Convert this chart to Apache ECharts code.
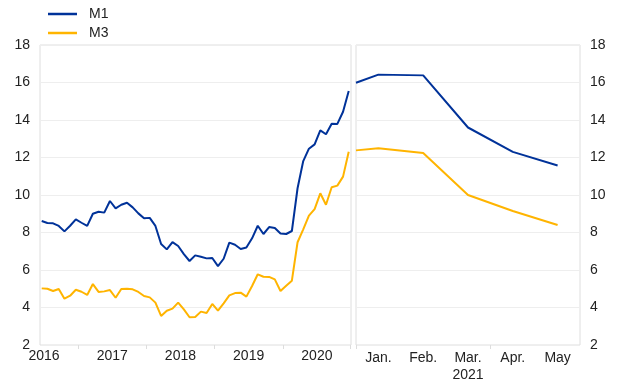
<!DOCTYPE html>
<html><head><meta charset="utf-8">
<script src="https://cdn.jsdelivr.net/npm/echarts@6/dist/echarts.min.js"></script>
<style>html,body{margin:0;padding:0;background:#fff}#c{width:620px;height:387px}</style>
</head><body><div id="c"></div>
<script>
const seriesNames = ['M1', 'M3'];
// Left panel: monthly observations, index 0 = start of 2016
const m1Left = [8.61,8.51,8.49,8.35,8.06,8.36,8.70,8.52,8.35,9.00,9.11,9.06,9.68,9.29,9.48,9.59,9.34,9.02,8.76,8.78,8.35,7.39,7.10,7.49,7.28,6.85,6.48,6.78,6.71,6.62,6.64,6.21,6.60,7.46,7.35,7.12,7.20,7.69,8.36,7.92,8.29,8.24,7.95,7.92,8.08,10.36,11.81,12.47,12.70,13.45,13.24,13.80,13.79,14.44,15.55];
const m3Left = [5.02,5.00,4.88,4.99,4.47,4.63,4.95,4.84,4.67,5.25,4.83,4.86,4.93,4.52,4.99,5.00,4.97,4.83,4.61,4.54,4.26,3.55,3.83,3.94,4.26,3.90,3.48,3.49,3.78,3.71,4.19,3.83,4.22,4.65,4.77,4.79,4.58,5.15,5.77,5.64,5.63,5.50,4.88,5.16,5.43,7.48,8.17,8.90,9.25,10.09,9.48,10.41,10.50,10.98,12.31];
const yearLabels = ['2016','2017','2018','2019','2020'];
const yearPos = [0.4, 12.4, 24.4, 36.4, 48.4];
// Right panel: 2021 months (position -0.5 = start of panel)
const rightPos = [-0.5, 0, 1, 2, 3, 4];
const m1Right = [15.99, 16.42, 16.38, 13.60, 12.30, 11.57];
const m3Right = [12.38, 12.49, 12.24, 10.00, 9.15, 8.40];
const monthLabels = ['Jan.', 'Feb.', 'Mar.\n2021', 'Apr.', 'May'];

const BLUE = '#003299', YELLOW = '#FFB400';
const FONT = 'Liberation Sans, Arial, sans-serif';
const chart = echarts.init(document.getElementById('c'), null, {renderer: 'canvas'});
const gridBorder = '#dedede', splitCol = '#eeeeee';
const yCommon = {
  type: 'value', min: 2, max: 18, interval: 2,
  axisLine: {show: false}, axisTick: {show: false},
  splitLine: {show: true, lineStyle: {color: splitCol, width: 1}},
  axisLabel: {color: '#222', fontSize: 14, fontFamily: FONT, margin: 10}
};
chart.setOption({
  animation: false,
  textStyle: {fontFamily: FONT},
  legend: {
    orient: 'vertical', left: 43, top: 2, itemWidth: 29, itemHeight: 2.5, itemGap: 5,
    icon: 'rect',
    data: seriesNames,
    textStyle: {color: '#222', fontSize: 14, fontFamily: FONT, padding: [0, 0, 0, 7]}
  },
  grid: [
    {left: 40, top: 45, width: 311, height: 300, show: true, borderColor: gridBorder, borderWidth: 1},
    {left: 356, top: 45, width: 224, height: 300, show: true, borderColor: gridBorder, borderWidth: 1}
  ],
  xAxis: [
    {
      gridIndex: 0, type: 'value', min: -0.3, max: 54.4,
      splitLine: {show: false}, axisLine: {show: false},
      axisTick: {show: true, customValues: [6.4, 18.4, 30.4, 42.4, 54.2], length: 4, lineStyle: {color: '#dddddd'}},
      axisLabel: {customValues: yearPos, formatter: v => yearLabels[yearPos.indexOf(v)] || '',
        color: '#222', fontSize: 14, fontFamily: FONT, margin: 4}
    },
    {
      gridIndex: 1, type: 'value', min: -0.5, max: 4.5,
      splitLine: {show: false}, axisLine: {show: false},
      axisTick: {show: true, customValues: [-0.5, 2.5], length: 4, lineStyle: {color: '#dddddd'}},
      axisLabel: {customValues: [0, 1, 2, 3, 4], formatter: v => monthLabels[Math.round(v)] || '',
        color: '#222', fontSize: 14, fontFamily: FONT, margin: 5, lineHeight: 17}
    }
  ],
  yAxis: [
    Object.assign({gridIndex: 0, position: 'left'}, yCommon),
    Object.assign({gridIndex: 1, position: 'right'}, yCommon)
  ],
  series: [
    {name: 'M1', type: 'line', xAxisIndex: 0, yAxisIndex: 0, symbol: 'none', color: BLUE,
      lineStyle: {width: 2, color: BLUE}, data: m1Left.map((v, i) => [i, v])},
    {name: 'M3', type: 'line', xAxisIndex: 0, yAxisIndex: 0, symbol: 'none', color: YELLOW,
      lineStyle: {width: 2, color: YELLOW}, data: m3Left.map((v, i) => [i, v])},
    {name: 'M1', type: 'line', xAxisIndex: 1, yAxisIndex: 1, symbol: 'none', color: BLUE,
      lineStyle: {width: 2, color: BLUE}, data: m1Right.map((v, i) => [rightPos[i], v])},
    {name: 'M3', type: 'line', xAxisIndex: 1, yAxisIndex: 1, symbol: 'none', color: YELLOW,
      lineStyle: {width: 2, color: YELLOW}, data: m3Right.map((v, i) => [rightPos[i], v])}
  ]
});
</script></body></html>
